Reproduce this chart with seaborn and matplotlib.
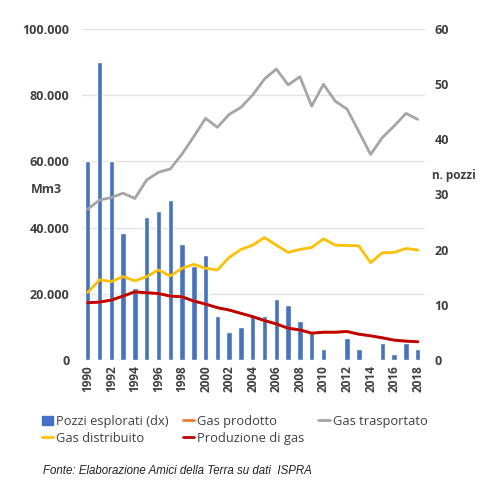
import matplotlib
matplotlib.use("Agg")
import matplotlib.pyplot as plt
import seaborn as sns
import pandas as pd
from matplotlib.lines import Line2D
from matplotlib.patches import Patch

years = list(range(1990, 2019))
pozzi = [36, 54, 36, 23, 13, 26, 27, 29, 21, 17, 19, 8, 5, 6, 8, 8, 11, 10, 7, 5, 2, 0, 4, 2, 0, 3, 1, 3, 2]
gas_trasportato = [45600, 48300, 49100, 50400, 48800, 54400, 56700, 57700, 62200, 67500, 73000, 70300,
                   74200, 76300, 80100, 84900, 87900, 83100, 85600, 76700, 83300, 78200, 75800, 69000,
                   62100, 67200, 70700, 74500, 72700]
gas_distribuito = [20400, 24200, 23700, 25200, 23900, 25200, 27200, 25400, 27700, 28900, 27700, 27200,
                   31000, 33400, 34700, 37000, 34700, 32500, 33400, 34000, 36600, 34700, 34600, 34500,
                   29400, 32400, 32500, 33700, 33200]
produzione_gas = [17300, 17500, 18100, 19300, 20600, 20300, 20100, 19300, 19100, 17800, 16900, 15800,
                  15100, 14100, 13100, 11900, 10900, 9600, 9100, 8100, 8400, 8400, 8600, 7800,
                  7300, 6700, 6000, 5700, 5500]
gas_prodotto = produzione_gas
left_ticks = [0, 20000, 40000, 60000, 80000, 100000]
left_labels = ["0", "20.000", "40.000", "60.000", "80.000", "100.000"]
right_ticks = [0, 10, 20, 30, 40, 50, 60]

df = pd.DataFrame({"anno": years, "pozzi": pozzi, "trasp": gas_trasportato,
                   "distr": gas_distribuito, "prod": produzione_gas, "prodotto": gas_prodotto})

sns.set_style("white")
plt.rcParams["font.family"] = ["Open Sans", "DejaVu Sans"]

C_BLUE = "#4472C4"; C_GRAY = "#A5A5A5"; C_YEL = "#FFC000"; C_RED = "#C00000"; C_ORA = "#ED7D31"
TXT = "#404040"

fig = plt.figure(figsize=(4.9, 4.88), dpi=100)
ax1 = fig.add_axes([0.167, 0.2623, 0.700, 0.6783])
ax1.set_xlim(1989.5, 2018.6)
ax1.set_ylim(0, 60)
for v in [0, 12, 24, 36, 48, 60]:
    ax1.axhline(v, color="#E3E3E3", lw=1, zorder=0)
sns.barplot(data=df, x="anno", y="pozzi", native_scale=True, color=C_BLUE, width=0.46,
            saturation=1, ax=ax1, zorder=2)
ax1.set_xlabel(""); ax1.set_ylabel("")

ax2 = ax1.twinx()
sns.lineplot(data=df, x="anno", y="prodotto", color=C_ORA, lw=2, ax=ax2)
sns.lineplot(data=df, x="anno", y="trasp", color=C_GRAY, lw=2, ax=ax2)
sns.lineplot(data=df, x="anno", y="distr", color=C_YEL, lw=2, ax=ax2)
sns.lineplot(data=df, x="anno", y="prod", color=C_RED, lw=2, ax=ax2)
ax2.set_xlabel(""); ax2.set_ylabel("")

ax1.set_xlim(1989.5, 2018.6)
ax1.set_ylim(0, 60)
ax2.set_xlim(1989.5, 2018.6)
ax2.set_ylim(0, 100000)

ax1.yaxis.tick_right()
ax1.set_yticks(right_ticks)
ax1.set_yticklabels([str(t) for t in right_ticks])
ax2.yaxis.tick_left()
ax2.set_yticks(left_ticks)
ax2.set_yticklabels(left_labels)

for a in (ax1, ax2):
    for s in a.spines.values():
        s.set_visible(False)
    a.tick_params(length=0, colors=TXT, labelsize=9)
    for lab in a.get_yticklabels():
        lab.set_fontweight("bold")
ax1.tick_params(axis="y", pad=7)
ax2.tick_params(axis="y", pad=9)

ax1.set_xticks(years[::2])
ax1.set_xticklabels([str(y) for y in years[::2]], rotation=90, fontweight="bold", fontsize=8.5, color=TXT)
ax1.tick_params(axis="x", pad=4)
ax2.tick_params(axis="x", labelbottom=False)

fig.text(0.062, 0.611, "Mm3", fontsize=9, fontweight="bold", color=TXT, ha="left", va="center")
fig.text(0.882, 0.641, "n. pozzi", fontsize=8.5, fontweight="bold", color=TXT, ha="left", va="center")

handles = [Patch(color=C_BLUE), Line2D([], [], color=C_YEL, lw=2), Line2D([], [], color=C_ORA, lw=2),
           Line2D([], [], color=C_RED, lw=2), Line2D([], [], color=C_GRAY, lw=2)]
labels = ["Pozzi esplorati (dx)", "Gas distribuito", "Gas prodotto", "Produzione di gas", "Gas trasportato"]
fig.legend(handles, labels, ncol=3, loc="upper left", bbox_to_anchor=(0.085, 0.150), frameon=False,
           fontsize=9.3, handlelength=0.9, handletextpad=0.2, columnspacing=1.1, labelspacing=0.3,
           labelcolor=TXT, borderaxespad=0, borderpad=0)

fig.text(0.088, 0.035, "Fonte: Elaborazione Amici della Terra su dati  ISPRA", fontsize=8.3,
         style="italic", family=["Liberation Sans", "DejaVu Sans"], color="#222222", ha="left", va="center")

fig.savefig("out.png", dpi=100)
